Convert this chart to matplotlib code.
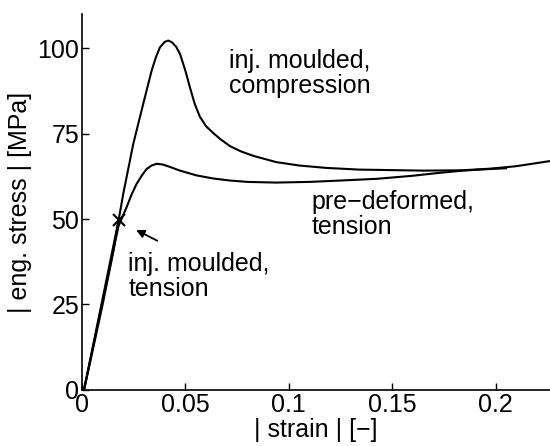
import matplotlib
matplotlib.use('Agg')
import matplotlib.pyplot as plt

plt.rcParams['font.family'] = ['Liberation Sans', 'DejaVu Sans']
plt.rcParams['font.size'] = 18

# injection moulded, compression
comp_strain = [0.001, 0.005, 0.010, 0.015, 0.0177, 0.020, 0.0248, 0.0296, 0.0337, 0.0357,
               0.0377, 0.040, 0.0417, 0.0435, 0.0455, 0.0474, 0.050, 0.0522, 0.0545, 0.057,
               0.0600, 0.0635, 0.067, 0.0715, 0.077, 0.083, 0.0939, 0.105, 0.118, 0.134,
               0.145, 0.165, 0.184, 0.198, 0.21, 0.2263]
comp_stress = [0.0, 11.0, 25.0, 40.0, 49.6, 57.5, 72.0, 83.7, 93.5, 97.3,
               100.3, 101.9, 102.3, 101.8, 100.5, 98.4, 93.5, 88.6, 83.8, 80.0,
               77.2, 75.2, 73.4, 71.4, 69.8, 68.5, 66.7, 65.7, 65.0, 64.5,
               64.4, 64.2, 64.3, 64.8, 65.5, 67.0]

# pre-deformed, tension
pre_strain = [0.001, 0.010, 0.0177, 0.0216, 0.024, 0.0264, 0.029, 0.0313, 0.0337, 0.0361,
              0.039, 0.0425, 0.0474, 0.0554, 0.0635, 0.0715, 0.08, 0.0939, 0.11, 0.125,
              0.1425, 0.16, 0.172, 0.184, 0.195, 0.205]
pre_stress = [0.0, 26.0, 48.0, 53.5, 57.2, 60.3, 62.8, 64.7, 65.7, 66.2,
              66.0, 65.3, 64.2, 62.8, 61.9, 61.3, 60.9, 60.7, 60.9, 61.3,
              61.8, 62.7, 63.5, 64.2, 64.6, 64.9]

# injection moulded, tension (fails at the marked point)
tens_strain = [0.001, 0.0177]
tens_stress = [0.0, 49.6]

fig = plt.figure(figsize=(5.5, 4.46), dpi=100)
ax = fig.add_axes([0.149, 0.126, 0.851, 0.842])

ax.plot(comp_strain, comp_stress, color='black', lw=1.5)
ax.plot(pre_strain, pre_stress, color='black', lw=1.5)
ax.plot(tens_strain, tens_stress, color='black', lw=1.5)
ax.plot(tens_strain[-1], tens_stress[-1], 'x', color='black', ms=8, mew=1.5)

ax.annotate('', xy=(0.025, 47.2), xytext=(0.0376, 43.3),
            arrowprops=dict(arrowstyle='-|>', color='black', lw=1.3, mutation_scale=12))

ax.text(0.071, 99.8, 'inj. moulded,\ncompression', va='top', ha='left', linespacing=1.05)
ax.text(0.111, 58.4, 'pre\u2212deformed,\ntension', va='top', ha='left', linespacing=1.05)
ax.text(0.0224, 40.4, 'inj. moulded,\ntension', va='top', ha='left', linespacing=1.05)

ax.set_xlim(0, 0.2263)
ax.set_ylim(0, 110)
ax.set_xticks([0, 0.05, 0.1, 0.15, 0.2])
ax.set_xticklabels(['0', '0.05', '0.1', '0.15', '0.2'])
ax.set_yticks([0, 25, 50, 75, 100])
ax.tick_params(direction='in', length=5, width=1, pad=2)
ax.spines['top'].set_visible(False)
ax.spines['right'].set_visible(False)
ax.spines['left'].set_linewidth(1.2)
ax.spines['bottom'].set_linewidth(1.2)

ax.set_xlabel('| strain | [\u2212]', labelpad=1)
ax.set_ylabel('| eng. stress | [MPa]', labelpad=4)

fig.savefig('out.png', dpi=100)
